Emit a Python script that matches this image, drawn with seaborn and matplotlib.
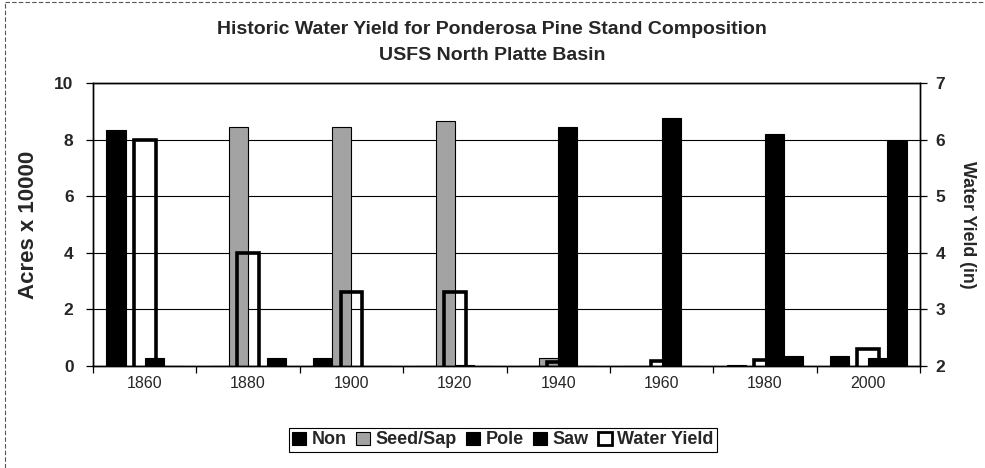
import numpy as np
import pandas as pd
import matplotlib
matplotlib.use("Agg")
import matplotlib.pyplot as plt
from matplotlib.patches import Patch
from matplotlib.lines import Line2D
import seaborn as sns

years = ['1860', '1880', '1900', '1920', '1940', '1960', '1980', '2000']
non = [8.35, 0.0, 0.3, 0.0, 0.0, 0.0, 0.05, 0.35]
seed_sap = [0.0, 8.45, 8.45, 8.65, 0.3, 0.0, 0.0, 0.0]
pole = [0.3, 0.0, 0.0, 0.05, 8.45, 8.75, 8.2, 0.3]
saw = [0.0, 0.3, 0.0, 0.0, 0.0, 0.0, 0.35, 7.95]
water_yield = [6.0, 4.0, 3.3, 3.3, 2.07, 2.08, 2.1, 2.3]
classes = ['Non', 'Seed/Sap', 'Pole', 'Saw']

sns.set_theme(style='white')
plt.rcParams['font.family'] = ['Liberation Sans', 'DejaVu Sans']

df = pd.DataFrame({
    'Year': years * 4,
    'Acres': non + seed_sap + pole + saw,
    'Class': [c for c in classes for _ in years],
})
palette = {'Non': '#000000', 'Seed/Sap': '#a3a3a3', 'Pole': '#000000', 'Saw': '#000000'}

fig = plt.figure(figsize=(9.85, 4.68), dpi=100)
ax = fig.add_axes([93/985, 1-366/468, (920-93)/985, (366-83)/468])

sns.barplot(data=df, x='Year', y='Acres', hue='Class', order=years, hue_order=classes,
            palette=palette, width=0.74, saturation=1, edgecolor='black',
            linewidth=0.8, legend=False, ax=ax)

ax2 = ax.twinx()
sns.barplot(x=years, y=water_yield, order=years, color='black', fill=False,
            width=0.21, linewidth=2.6, ax=ax2, errorbar=None)

ax.set_xlim(-0.5, 7.5)
ax.set_ylim(0, 10)
ax2.set_ylim(2, 7)
ax.set_yticks([0, 2, 4, 6, 8, 10])
ax2.set_yticks([2, 3, 4, 5, 6, 7])
ax.yaxis.grid(True, color='black', linewidth=0.8)
ax.set_axisbelow(True)

# category boundary ticks (Excel style) + centered labels
ax.set_xticks(np.arange(-0.5, 8, 1))
ax.set_xticklabels([''] * 9)
ax.set_xticks(np.arange(8), minor=True)
ax.set_xticklabels(years, minor=True, fontsize=11.5)
ax.tick_params(axis='x', which='major', direction='out', length=5, width=0.9, color='black', bottom=True)
ax.tick_params(axis='x', which='minor', length=0, pad=7)
ax.tick_params(axis='y', direction='out', length=5, width=0.9, color='black', labelsize=12.5, pad=9, left=True)
ax2.tick_params(axis='y', direction='out', length=5, width=0.9, color='black', labelsize=12.5, pad=6, right=True)
for lbl in ax.get_yticklabels() + ax2.get_yticklabels():
    lbl.set_fontweight('bold')

ax.set_xlabel('')
ax.set_ylabel('Acres x 10000', fontsize=16, fontweight='bold', labelpad=11)
ax2.set_ylabel('Water Yield (in)', fontsize=12.8, fontweight='bold', rotation=-90, labelpad=22)

for a in (ax, ax2):
    for s in a.spines.values():
        s.set_color('black')
        s.set_linewidth(1.0)

fig.text(492/985, 1-30/468, 'Historic Water Yield for Ponderosa Pine Stand Composition',
         ha='center', va='center', fontsize=14, fontweight='bold')
fig.text(492/985, 1-56/468, 'USFS North Platte Basin',
         ha='center', va='center', fontsize=14, fontweight='bold')

handles = [Patch(facecolor=palette[c], edgecolor='black', linewidth=0.8) for c in classes]
handles.append(Patch(facecolor='white', edgecolor='black', linewidth=2))
labels = classes + ['Water Yield']
leg = fig.legend(handles, labels, loc='center', bbox_to_anchor=(503/985, 1-440/468), ncol=5,
                 frameon=True, fancybox=False, edgecolor='black', framealpha=1,
                 prop={'weight': 'bold', 'size': 13}, handlelength=0.75, handleheight=0.75,
                 handletextpad=0.3, columnspacing=0.55, borderpad=0.2, borderaxespad=0)
leg.get_frame().set_linewidth(0.8)

# scanned outer frame (left and top edges)
fig.add_artist(Line2D([5/985, 5/985], [0, 1-2/468], transform=fig.transFigure,
                      color='#555555', linewidth=0.8, linestyle=(0, (4, 2))))
fig.add_artist(Line2D([5/985, 1], [1-2/468, 1-2/468], transform=fig.transFigure,
                      color='#555555', linewidth=0.8, linestyle=(0, (4, 2))))

fig.savefig('out.png', dpi=100)
